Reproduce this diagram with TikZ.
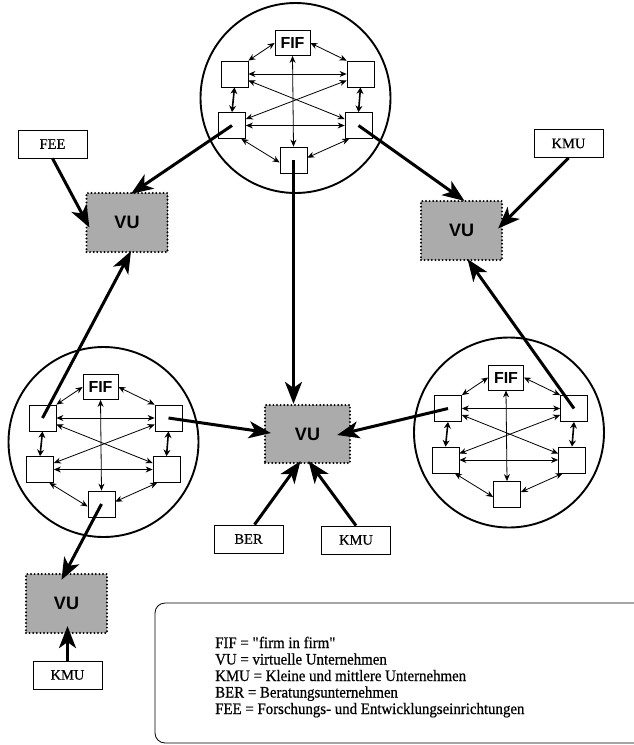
\documentclass[tikz,border=0pt]{standalone}
\usepackage{fontspec}
\setmainfont{Liberation Serif}
\newfontfamily\sansb{Liberation Sans}
\newfontfamily\legfont[FakeStretch=0.93,FakeBold=0.6]{Liberation Serif}
\newfontfamily\boxfont[FakeBold=0.4]{Liberation Serif}
\usetikzlibrary{arrows.meta,calc}

\tikzset{
 sq/.style={draw, line width=0.8pt, fill=white, minimum width=27pt, minimum height=26pt, inner sep=0pt},
 fifbox/.style={draw, line width=0.8pt, fill=white, minimum width=35pt, minimum height=25pt, inner sep=0pt, font=\sansb\bfseries\fontsize{16}{16}\selectfont},
 ring/.style={draw, line width=1.9pt, circle, minimum size=190pt, inner sep=0pt},
 lbl/.style={draw, line width=0.8pt, fill=white, minimum width=69pt, minimum height=28pt, inner sep=0pt, font=\boxfont\fontsize{14.5}{15}\selectfont},
 vubox/.style={draw, fill=black!33, line width=2.2pt, dash pattern=on 0pt off 3.6pt, line cap=round, minimum width=81pt, minimum height=59pt, inner sep=0pt, font=\sansb\bfseries\fontsize{18}{18}\selectfont},
 thinarr/.style={line width=0.8pt, {Stealth[length=7pt,width=6pt]}-{Stealth[length=7pt,width=6pt]}},
 vshort/.style={line width=1.6pt, {Stealth[length=6.5pt,width=7pt]}-{Stealth[length=6.5pt,width=7pt]}},
 bigarr/.style={line width=3pt, -{Stealth[length=22pt,width=17pt,inset=6pt]}},
 legtext/.style={anchor=base west, inner sep=0pt, font=\legfont\fontsize{16}{16}\selectfont},
}

\newcommand\cluster[3]{%
 \node[ring] (#1c) at (#2+3,#3+55) {};
 \node[fifbox] (#1f) at (#2,#3) {FIF};
 \node[sq] (#1ul) at (#2-58,#3+31) {};
 \node[sq] (#1ur) at (#2+68,#3+31) {};
 \node[sq] (#1ll) at (#2-60.5,#3+82.5) {};
 \node[sq] (#1lr) at (#2+66,#3+82.5) {};
 \node[sq] (#1b) at (#2+1,#3+117) {};
 \draw[thinarr] (#1f.west) -- (#1ul.north east);
 \draw[thinarr] (#1f.east) -- (#1ur.north west);
 \draw[thinarr] (#1f.south) -- (#1b.north);
 \draw[thinarr] (#1ul.east) -- (#1ur.west);
 \draw[thinarr] (#1ll.east) -- (#1lr.west);
 \draw[thinarr] (#1ul.-25) -- (#1lr.155);
 \draw[thinarr] (#1ur.205) -- (#1ll.25);
 \draw[vshort] (#1ul.south) -- (#1ll.north);
 \draw[vshort] (#1ur.south) -- (#1lr.north);
 \draw[thinarr] (#1ll.-55) -- (#1b.190);
 \draw[thinarr] (#1lr.-125) -- (#1b.10);
}

\begin{document}
\begin{tikzpicture}[x=1pt,y=-1pt]
\useasboundingbox (0,0) rectangle (634,745);

\cluster{t}{292.5}{43}
\cluster{l}{100.5}{387}
\cluster{r}{506}{377.5}

\node[vubox] (vl) at (127,222.5) {VU};
\node[vubox] (vr) at (461.5,230.5) {VU};
\node[vubox, minimum width=85pt, minimum height=58pt] (vc) at (307.5,434) {VU};
\node[vubox] (vb) at (66.5,603.5) {VU};

\node[lbl] (fee) at (52.5,144) {FEE};
\node[lbl] (kr) at (568.5,143.5) {KMU};
\node[lbl] (ber) at (248.5,539) {BER};
\node[lbl] (kc) at (356,540) {KMU};
\node[lbl] (kb) at (67.5,675) {KMU};

% thick connectors
\draw[bigarr] (tll.center) -- ($(vl.north)+(4,2)$);
\draw[bigarr] (fee.south) -- ($(vl.west)+(4,5)$);
\draw[bigarr] (lul.center) -- ($(vl.south)+(4,-2)$);
\draw[bigarr] (tlr.center) -- ($(vr.north)+(3,1)$);
\draw[bigarr] (kr.south) -- ($(vr.east)+(-5,-2)$);
\draw[bigarr] (rur.center) -- ($(vr.south)+(6,-2)$);
\draw[bigarr] (tb.center) -- (tb.center |- vc.north);
\draw[bigarr] (lur.center) -- ($(vc.west)+(7,-1)$);
\draw[bigarr] (rul.center) -- ($(vc.east)+(-14,1)$);
\draw[bigarr] ($(ber.north)+(6,0)$) -- ($(vc.south)+(-7,-3)$);
\draw[bigarr] (kc.north) -- ($(vc.south)+(1,-3)$);
\draw[bigarr] (lb.center) -- ($(vb.north)+(-5,7)$);
\draw[bigarr] (kb.north) -- ($(vb.south)+(1,-8)$);

% legend
\draw[line width=0.8pt, rounded corners=10pt] (645,603) -- (155,603) -- (155,743) -- (645,743);
\node[legtext] (leg1) at (215,648) {FIF = \textquotedbl firm in firm\textquotedbl};
\node[legtext] (leg2) at (215,664.5) {VU = virtuelle Unternehmen};
\node[legtext] (leg3) at (215,681) {KMU = Kleine und mittlere Unternehmen};
\node[legtext] (leg4) at (215,697.5) {BER = Beratungsunternehmen};
\node[legtext] (leg5) at (215,714) {FEE = Forschungs- und Entwicklungseinrichtungen};
\end{tikzpicture}
\end{document}
